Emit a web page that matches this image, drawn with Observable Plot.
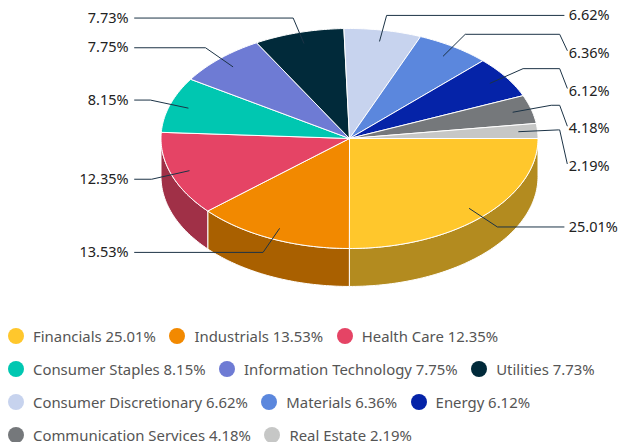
<!DOCTYPE html>
<html>
<head>
<meta charset="utf-8">
<script src="https://cdn.jsdelivr.net/npm/d3@7"></script>
<script src="https://cdn.jsdelivr.net/npm/@observablehq/plot@0.6"></script>
<style>
html,body{margin:0;padding:0;background:#fff;overflow:hidden;width:618px;height:442px}
svg{display:block}
#legend{font-family:"Noto Sans",sans-serif;font-size:14.9px;color:#555;margin-top:9.5px}
.row{display:flex;height:33px;padding-left:8px;white-space:nowrap}
.item{display:flex;align-items:center;margin-right:13.5px}
.sw{width:16px;height:16px;border-radius:50%;margin-right:9px;flex:none}
.tx{display:block;line-height:14px}
</style>
</head>
<body>
<div id="chart"></div>
<div id="legend"></div>
<script>
const sectors = ["Financials","Industrials","Health Care","Consumer Staples","Information Technology","Utilities","Consumer Discretionary","Materials","Energy","Communication Services","Real Estate"];
const weights = [25.01,13.53,12.35,8.15,7.75,7.73,6.62,6.36,6.12,4.18,2.19];
const colors = ["#ffc72c","#f28900","#e54465","#00c7b1","#6e7bd4","#012a3a","#c7d3ee","#5b87dd","#0523a8","#75787b","#c6c7c6"];
const legendRows = [[0,1,2],[3,4,5],[6,7,8],[9,10]];

// layout (unit-ellipse coordinates; x: -1..1 across, y: -1..1 downward)
const depth = 0.345, innerR = 0.9, elbowRx = 1.11, elbowRy = 1.137, minGap = 0.343;
const leftEnd = -1.14, rightEnd = 1.138, leftLabel = -1.172, rightLabel = 1.163, kneeX = 1.115;

const arcs = d3.pie().sort(null).startAngle(0).endAngle(2 * Math.PI)(weights);
const pt = (a, r = 1, dy = 0) => [r * Math.cos(a), r * Math.sin(a) + dy];

function samples(a0, a1) {
  const n = Math.max(2, Math.ceil((a1 - a0) / (Math.PI / 180)));
  return d3.range(n + 1).map(i => a0 + (a1 - a0) * i / n);
}

const topFaces = [], sideFaces = [];
arcs.forEach((d, i) => {
  const ring = [[0, 0], ...samples(d.startAngle, d.endAngle).map(a => pt(a)), [0, 0]];
  ring.forEach(([x, y]) => topFaces.push({id: i, x, y, fill: colors[i]}));
  if (d.startAngle < Math.PI) {
    const s = samples(d.startAngle, Math.min(d.endAngle, Math.PI));
    const wall = [...s.map(a => pt(a)), ...s.slice().reverse().map(a => pt(a, 1, depth))];
    wall.push(wall[0]);
    const c = d3.rgb(colors[i]);
    const dark = d3.rgb(c.r * 0.7, c.g * 0.7, c.b * 0.7).formatHex();
    wall.forEach(([x, y]) => sideFaces.push({id: i, x, y, fill: dark}));
  }
});

// labels: pushed down on the right when they would collide
const labels = arcs.map((d, i) => {
  const mid = (d.startAngle + d.endAngle) / 2;
  const ex = elbowRx * Math.cos(mid), ey = elbowRy * Math.sin(mid);
  return {i, mid, ex, ey, ly: ey, right: ex > 0, text: weights[i].toFixed(2) + "%"};
});
const rightTop = labels.filter(l => l.right && l.ey < 0.6).sort((a, b) => a.ey - b.ey);
rightTop.forEach((l, k) => { if (k) l.ly = Math.max(l.ey, rightTop[k - 1].ly + minGap); });

const leaders = [];
labels.forEach(l => {
  const [ix, iy] = pt(l.mid, innerR);
  const p = [[ix, iy], [l.ex, l.ey]];
  if (l.ly !== l.ey) {
    p.push([Math.max(kneeX, l.ex), l.ey]);
    p.push([rightEnd + 0.017, l.ly - 0.025]);
  } else {
    p.push([l.right ? rightEnd : leftEnd, l.ey]);
  }
  p.forEach(([x, y]) => leaders.push({id: l.i, x, y}));
});

const labelStyle = {y: "ly", text: "text", fontSize: 14.5, fill: "#222", lineAnchor: "middle"};
const chart = Plot.plot({
  width: 618, height: 310, margin: 0,
  x: {domain: [-1, 1], range: [160.5, 537.5], axis: null},
  y: {domain: [-1, 1], range: [28, 248], axis: null},
  color: {type: "identity"},
  style: {fontFamily: '"Noto Sans", sans-serif', background: "transparent"},
  marks: [
    Plot.line(sideFaces, {x: "x", y: "y", z: "id", fill: "fill", stroke: "#fff", strokeWidth: 1}),
    Plot.line(topFaces, {x: "x", y: "y", z: "id", fill: "fill", stroke: "#fff", strokeWidth: 1}),
    Plot.line(leaders, {x: "x", y: "y", z: "id", stroke: "#1c3346", strokeWidth: 1}),
    Plot.text(labels.filter(l => l.right), {...labelStyle, x: () => rightLabel, textAnchor: "start"}),
    Plot.text(labels.filter(l => !l.right), {...labelStyle, x: () => leftLabel, textAnchor: "end"})
  ]
});
document.getElementById("chart").appendChild(chart);

const legendBox = d3.select("#legend");
legendRows.forEach(r => {
  const row = legendBox.append("div").attr("class", "row");
  r.forEach(i => {
    const it = row.append("div").attr("class", "item");
    it.append("span").attr("class", "sw").style("background", colors[i]);
    it.append("span").attr("class", "tx").text(sectors[i] + " " + weights[i].toFixed(2) + "%");
  });
});
</script>
</body>
</html>
